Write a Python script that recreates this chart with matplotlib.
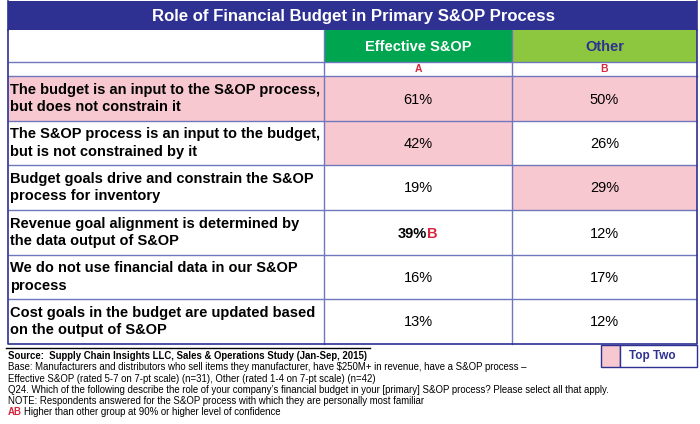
import matplotlib
matplotlib.use("Agg")
import matplotlib.pyplot as plt
from matplotlib.patches import Rectangle

# ---------------- data ----------------
title = "Role of Financial Budget in Primary S&OP Process"
columns = ["Effective S&OP", "Other"]
col_letters = ["A", "B"]
row_labels = [
    "The budget is an input to the S&OP process,\nbut does not constrain it",
    "The S&OP process is an input to the budget,\nbut is not constrained by it",
    "Budget goals drive and constrain the S&OP\nprocess for inventory",
    "Revenue goal alignment is determined by\nthe data output of S&OP",
    "We do not use financial data in our S&OP\nprocess",
    "Cost goals in the budget are updated based\non the output of S&OP",
]
effective = [61, 42, 19, 39, 16, 13]
other = [50, 26, 29, 12, 17, 12]
# top-two highlighting: (label, effective, other)
hl_label = [True, False, False, False, False, False]
hl_eff = [True, True, False, False, False, False]
hl_oth = [True, False, True, False, False, False]
# significance letter next to a value
sig_eff = ["", "", "", "B", "", ""]
sig_oth = ["", "", "", "", "", ""]

footnotes = [
    "Base: Manufacturers and distributors who sell items they manufacturer, have $250M+ in revenue, have a S&OP process \u2013",
    "Effective S&OP (rated 5-7 on 7-pt scale) (n=31), Other (rated 1-4 on 7-pt scale) (n=42)",
    "Q24. Which of the following describe the role of your company\u2019s financial budget in your [primary] S&OP process? Please select all that apply.",
    "NOTE: Respondents answered for the S&OP process with which they are personally most familiar",
]
source_text = "Source:  Supply Chain Insights LLC, Sales & Operations Study (Jan-Sep, 2015)"
sig_note = "Higher than other group at 90% or higher level of confidence"
legend_text = "Top Two"

# ---------------- style ----------------
NAVY = "#2E3192"
GRID = "#6F78BE"
PINK = "#F8C8D0"
GREEN1 = "#00A54F"
GREEN2 = "#8DC63F"
RED = "#D7263D"
FONT = "Liberation Sans"

W, H = 700, 424
fig = plt.figure(figsize=(W / 100, H / 100), dpi=100)
ax = fig.add_axes([0, 0, 1, 1])
ax.set_xlim(0, W)
ax.set_ylim(H, 0)
ax.axis("off")

x0, x1, x2, x3 = 8, 324, 512, 697
y_title0, y_title1 = 1, 30
y_head1 = 62
y_ab1 = 76
row_edges = [76, 121, 165, 210, 255, 299, 344]

# title bar
ax.add_patch(Rectangle((x0, y_title0), x3 - x0, y_title1 - y_title0, color=NAVY, lw=0))
ax.text((x0 + x3) / 2 + 1, 16.5, title, color="white",
        fontsize=12.1, fontweight="bold", family=FONT, ha="center", va="center")

# header
ax.add_patch(Rectangle((x1, y_title1), x2 - x1, y_head1 - y_title1, color=GREEN1, lw=0))
ax.add_patch(Rectangle((x2, y_title1), x3 - x2, y_head1 - y_title1, color=GREEN2, lw=0))
ax.text((x1 + x2) / 2, (y_title1 + y_head1) / 2 + 1, columns[0], color="white",
        fontsize=10.5, fontweight="bold", family=FONT, ha="center", va="center")
ax.text((x2 + x3) / 2, (y_title1 + y_head1) / 2 + 1, columns[1], color=NAVY,
        fontsize=10.5, fontweight="bold", family=FONT, ha="center", va="center")
ax.text((x1 + x2) / 2, (y_head1 + y_ab1) / 2 + 0.5, col_letters[0], color=RED,
        fontsize=7.5, fontweight="bold", family=FONT, ha="center", va="center")
ax.text((x2 + x3) / 2, (y_head1 + y_ab1) / 2 + 0.5, col_letters[1], color=RED,
        fontsize=7.5, fontweight="bold", family=FONT, ha="center", va="center")

# rows
for i, lab in enumerate(row_labels):
    ya, yb = row_edges[i], row_edges[i + 1]
    yc = (ya + yb) / 2
    if hl_label[i]:
        ax.add_patch(Rectangle((x0, ya), x1 - x0, yb - ya, color=PINK, lw=0))
    if hl_eff[i]:
        ax.add_patch(Rectangle((x1, ya), x2 - x1, yb - ya, color=PINK, lw=0))
    if hl_oth[i]:
        ax.add_patch(Rectangle((x2, ya), x3 - x2, yb - ya, color=PINK, lw=0))
    ax.text(x0 + 2, yc, lab, fontsize=10.5, fontweight="bold", family=FONT,
            ha="left", va="center", linespacing=1.3, color="black")
    for (xa, xb, val, sig) in [(x1, x2, effective[i], sig_eff[i]), (x2, x3, other[i], sig_oth[i])]:
        xc = (xa + xb) / 2
        if sig:
            ax.text(xc + 9, yc + 1, f"{val}%", fontsize=10.5, fontweight="bold",
                    family=FONT, ha="right", va="center", color="black")
            ax.text(xc + 9, yc + 1, sig, fontsize=10.5, fontweight="bold",
                    family=FONT, ha="left", va="center", color=RED)
        else:
            ax.text(xc, yc + 1, f"{val}%", fontsize=10.5, family=FONT,
                    ha="center", va="center", color="black")

# grid lines
for y in [y_head1] + row_edges[1:-1]:
    ax.plot([x0, x3], [y, y], color=GRID, lw=1.0, solid_capstyle="butt")
ax.plot([x0, x3], [row_edges[0], row_edges[0]], color=GRID, lw=1.0)
ax.plot([x1, x1], [y_title1, row_edges[-1]], color=GRID, lw=1.0)
ax.plot([x2, x2], [y_title1, row_edges[-1]], color=GRID, lw=1.0)
# outer border
ax.plot([x0, x0, x3, x3], [y_title1, row_edges[-1], row_edges[-1], y_title1], color=NAVY, lw=1.2)
ax.plot([x0, x0], [y_title0, y_title1], color=NAVY, lw=1.2)
ax.plot([x3, x3], [y_title0, y_title1], color=NAVY, lw=1.2)

# separator line below table
ax.plot([x0 - 2, 370], [348, 348], color="black", lw=1.0)

# footnotes
FS = 6.9
ax.text(x0, 356, source_text, fontsize=FS, fontweight="bold", family=FONT,
        ha="left", va="center")
fy = [367, 379, 390, 401]
for y, t in zip(fy, footnotes):
    ax.text(x0, y, t, fontsize=FS, family=FONT, ha="left", va="center")
ax.text(x0, 412, "AB", fontsize=FS, fontweight="bold", family=FONT, color=RED,
        ha="left", va="center")
ax.text(x0 + 16, 412, sig_note, fontsize=FS, family=FONT, ha="left", va="center")

# legend
lx0, lx1, lx2 = 601, 620, 698
ly0, ly1 = 345, 367
ax.add_patch(Rectangle((lx0, ly0), lx1 - lx0, ly1 - ly0, facecolor=PINK, edgecolor=NAVY, lw=1.0))
ax.add_patch(Rectangle((lx1, ly0), lx2 - lx1 - 1, ly1 - ly0, facecolor="white", edgecolor=NAVY, lw=1.0))
ax.text(629, (ly0 + ly1) / 2, legend_text, color=NAVY, fontsize=8.5,
        fontweight="bold", family=FONT, ha="left", va="center")

fig.savefig("out.png", dpi=100, facecolor="white")
